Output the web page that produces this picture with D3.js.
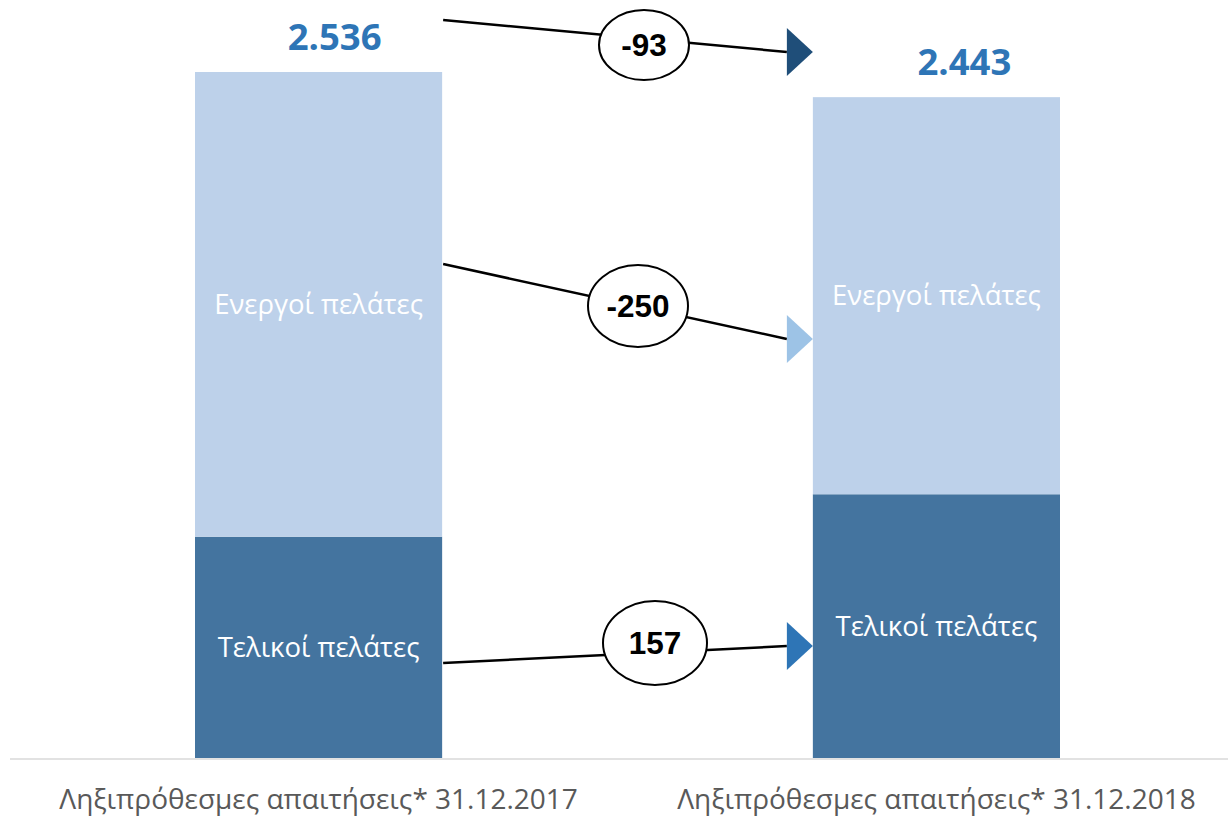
<!DOCTYPE html>
<html>
<head>
<meta charset="utf-8">
<script src="https://cdn.jsdelivr.net/npm/d3@7"></script>
<style>
  body { margin: 0; background: #fff; }
  svg { display: block; }
</style>
</head>
<body>
<div id="chart"></div>
<script>
const width = 1228
const height = 816

// data
const categories = ["Ληξιπρόθεσμες απαιτήσεις* 31.12.2017", "Ληξιπρόθεσμες απαιτήσεις* 31.12.2018"]
const seriesNames = ["Τελικοί πελάτες", "Ενεργοί πελάτες"]
const finalCustomers = [818, 975]
const activeCustomers = [1718, 1468]
const totalLabels = ["2.536", "2.443"]
const changeLabels = ["-93", "-250", "157"]

const colors = ["#44749f", "#bdd1ea"]
const arrowColors = ["#1f4e79", "#9dc3e6", "#2e75b6"]

let svg = d3.select("#chart").append("svg")
    .attr("width", width)
    .attr("height", height)

let x = d3.scaleBand().domain(categories).range([195, 1060]).paddingInner(0.6).paddingOuter(0)
let y = d3.scaleLinear().domain([0, d3.sum([finalCustomers[0], activeCustomers[0]])]).range([758, 72])

let rows = categories.map((c, i) => ({cat: c, "Τελικοί πελάτες": finalCustomers[i], "Ενεργοί πελάτες": activeCustomers[i]}))
let stacked = d3.stack().keys(seriesNames)(rows)

let layers = svg.selectAll("g.layer")
    .data(stacked)
    .join("g")
    .attr("class", "layer")
    .attr("fill", (d, i) => colors[i])

layers.selectAll("rect")
    .data(d => d)
    .join("rect")
    .attr("x", d => x(d.data.cat))
    .attr("y", d => y(d[1]))
    .attr("width", x.bandwidth())
    .attr("height", d => y(d[0]) - y(d[1]))

// segment labels
layers.each(function(layer) {
  d3.select(this).selectAll("text")
      .data(layer)
      .join("text")
      .attr("x", d => x(d.data.cat) + x.bandwidth() / 2)
      .attr("y", d => (y(d[0]) + y(d[1])) / 2)
      .attr("dy", "0.35em")
      .attr("text-anchor", "middle")
      .attr("fill", "#ffffff")
      .attr("font-family", "'Open Sans', sans-serif")
      .attr("font-size", 27.5)
      .text(layer.key)
})

// totals (label offsets)
const totalShift = [16, 28]
svg.selectAll("text.total")
    .data(rows)
    .join("text")
    .attr("class", "total")
    .attr("x", (d, i) => x(d.cat) + x.bandwidth() / 2 + totalShift[i])
    .attr("y", d => y(d["Τελικοί πελάτες"] + d["Ενεργοί πελάτες"]) - 35)
    .attr("dy", "0.35em")
    .attr("text-anchor", "middle")
    .attr("fill", "#2e75b6")
    .attr("font-family", "'Open Sans', sans-serif")
    .attr("font-weight", "bold")
    .attr("font-size", 36.5)
    .text((d, i) => totalLabels[i])

// baseline
svg.append("line")
    .attr("x1", 10).attr("x2", width)
    .attr("y1", y(0) + 1).attr("y2", y(0) + 1)
    .attr("stroke", "#d9d9d9")
    .attr("stroke-width", 1.5)

// category axis
let xAxis = svg.append("g")
    .attr("transform", `translate(0, ${y(0)})`)
    .call(d3.axisBottom(x).tickSize(0).tickPadding(31))
xAxis.select(".domain").remove()
xAxis.selectAll("text")
    .attr("fill", "#595959")
    .attr("font-family", "'Open Sans', sans-serif")
    .attr("font-size", 28)

// change arrows (start / end in value units, bubble centre in pixels)
const arrowLayout = [
  {from: 2728, to: 2610, cx: 644, cy: 45, rx: 45, ry: 35},
  {from: 1826, to: 1549, cx: 638, cy: 306, rx: 50, ry: 41},
  {from: 351, to: 414, cx: 655, cy: 643, rx: 52, ry: 42}
]
const x0 = x(categories[0]) + x.bandwidth() + 1
const x1 = x(categories[1]) - 26

let arrows = svg.selectAll("g.arrow")
    .data(arrowLayout)
    .join("g")
    .attr("class", "arrow")

arrows.append("line")
    .attr("x1", x0).attr("y1", d => y(d.from))
    .attr("x2", x1).attr("y2", d => y(d.to))
    .attr("stroke", "#000")
    .attr("stroke-width", 2.5)

arrows.append("path")
    .attr("d", d => `M${x1},${y(d.to) - 24}L${x1 + 26},${y(d.to)}L${x1},${y(d.to) + 24}Z`)
    .attr("fill", (d, i) => arrowColors[i])

arrows.append("ellipse")
    .attr("cx", d => d.cx).attr("cy", d => d.cy)
    .attr("rx", d => d.rx).attr("ry", d => d.ry)
    .attr("fill", "#fff")
    .attr("stroke", "#000")
    .attr("stroke-width", 2)

arrows.append("text")
    .attr("x", d => d.cx).attr("y", d => d.cy)
    .attr("dy", "0.36em")
    .attr("text-anchor", "middle")
    .attr("font-family", "'Liberation Sans', Arial, sans-serif")
    .attr("font-weight", "bold")
    .attr("font-size", 31.5)
    .text((d, i) => changeLabels[i])
</script>
</body>
</html>
